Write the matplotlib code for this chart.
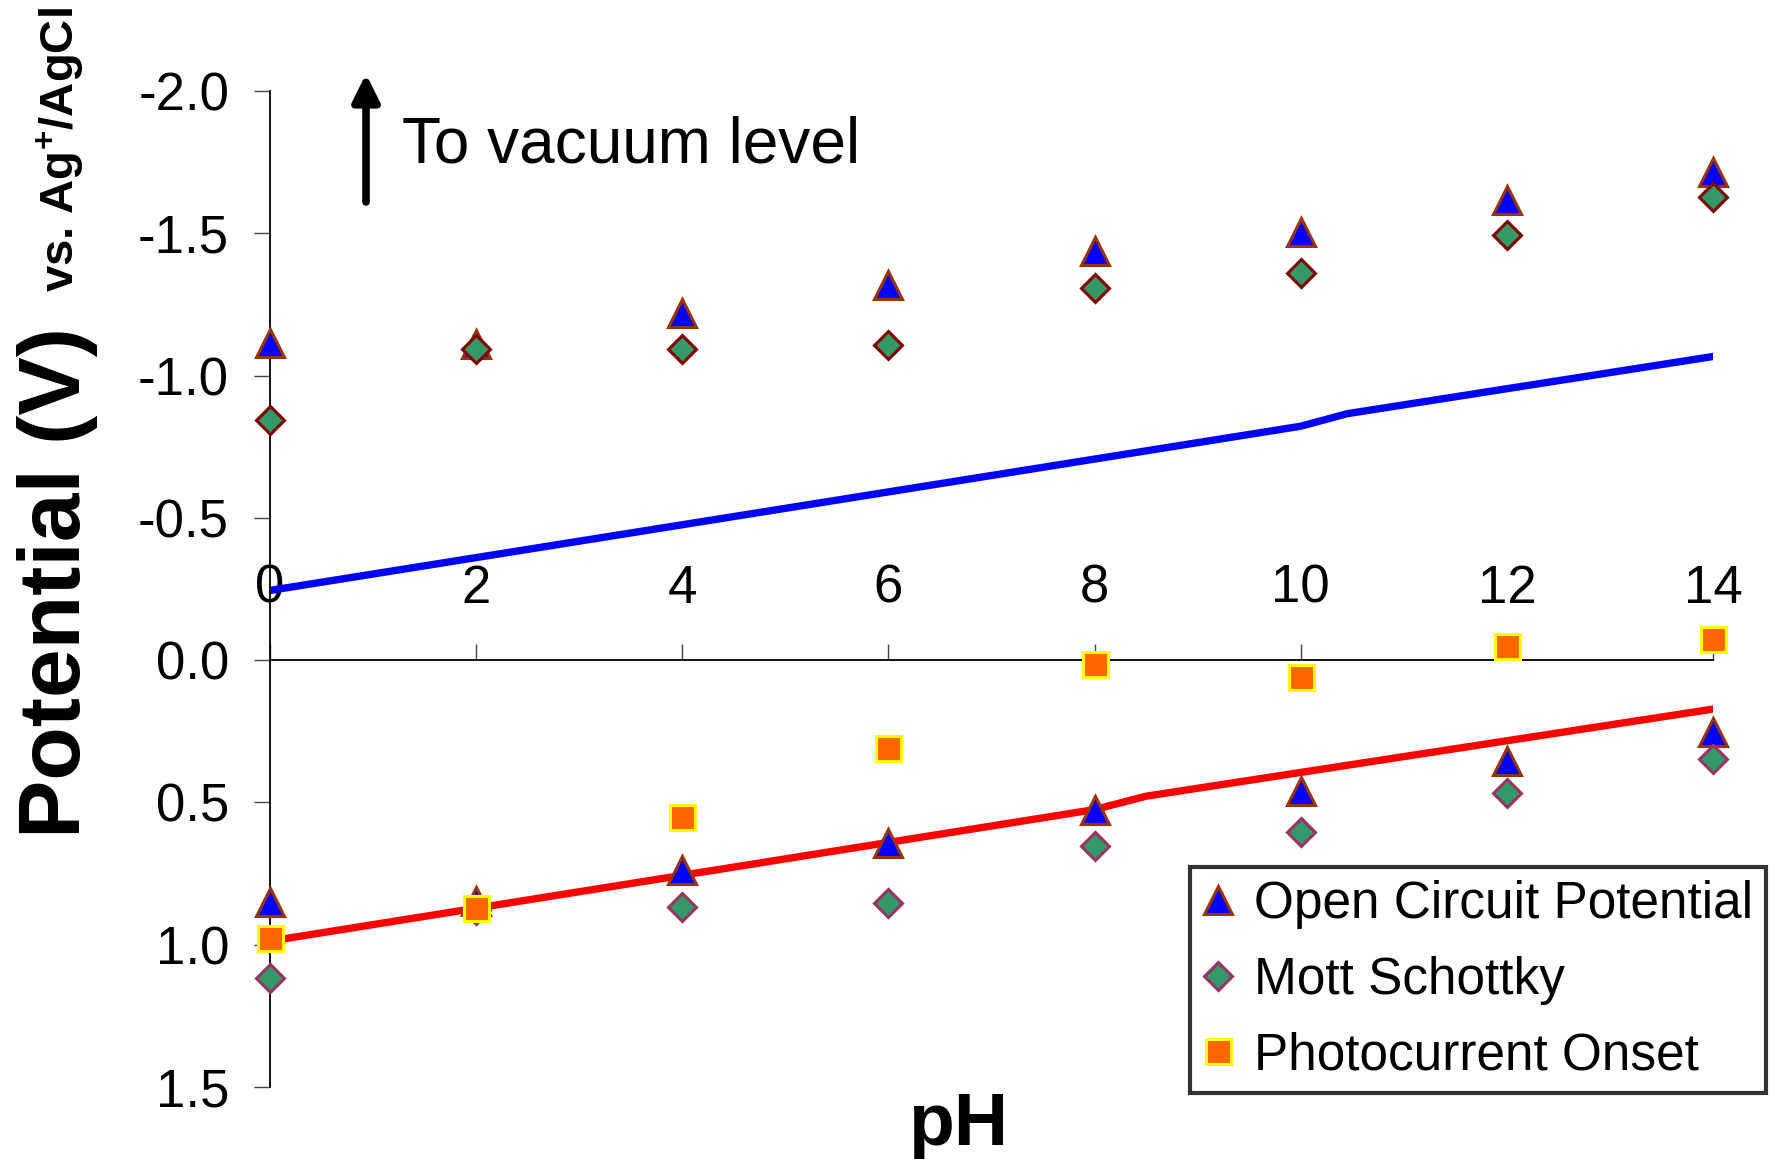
import matplotlib
matplotlib.use('Agg')
import matplotlib.pyplot as plt
from matplotlib.lines import Line2D

plt.rcParams['font.family'] = ['Liberation Sans', 'DejaVu Sans']
plt.rcParams['axes.unicode_minus'] = False
plt.rcParams['mathtext.fontset'] = 'custom'
plt.rcParams['mathtext.rm'] = 'Liberation Sans'
plt.rcParams['mathtext.bf'] = 'Liberation Sans:bold'

# donnees
ph = [0, 2, 4, 6, 8, 10, 12, 14]
ocp_haut = [-1.113, -1.11, -1.221, -1.317, -1.436, -1.504, -1.616, -1.715]
ocp_bas = [0.849, 0.845, 0.738, 0.644, 0.526, 0.459, 0.354, 0.251]
ms_haut = [-0.843, -1.093, -1.093, -1.106, -1.309, -1.36, -1.493, -1.627]
ms_bas = [1.117, 0.878, 0.867, 0.855, 0.652, 0.603, 0.466, 0.346]
onset = [0.977, 0.870, 0.551, 0.308, 0.015, 0.06, -0.048, -0.076]

ph_bleu = [0, 10, 10.45, 14]
ligne_bleu = [-0.245, -0.822, -0.866, -1.067]
ph_rouge = [0, 8, 8.5, 14]
ligne_rouge = [0.987, 0.525, 0.478, 0.172]

yticks = [-2.0, -1.5, -1.0, -0.5, 0.0, 0.5, 1.0, 1.5]
xticks = [0, 2, 4, 6, 8, 10, 12, 14]

fig = plt.figure(figsize=(17.72, 11.59), dpi=100)
ax = fig.add_axes([0.1524, 0.0621, 0.8143, 0.8594])

ax.plot(ph_bleu, ligne_bleu, color='#0000FF', lw=5.3, solid_capstyle='round', zorder=2)
ax.plot(ph_rouge, ligne_rouge, color='#FF0000', lw=5.3, solid_capstyle='round', zorder=2)

ax.plot(ph, ocp_haut, '^', ms=20, mfc='#0000FF', mec='#993300', mew=2.2, ls='none', clip_on=False, zorder=3)
ax.plot(ph, ocp_bas, '^', ms=20, mfc='#0000FF', mec='#993300', mew=2.2, ls='none', clip_on=False, zorder=3)
ax.plot(ph, ms_haut, 'D', ms=14, mfc='#339966', mec='#800000', mew=2.2, ls='none', clip_on=False, zorder=4)
ax.plot(ph, ms_bas, 'D', ms=14, mfc='#339966', mec='#993366', mew=2.2, ls='none', clip_on=False, zorder=4)
ax.plot(ph, onset, 's', ms=18, mfc='#FF6600', mec='#FFFF00', mew=2.2, ls='none', clip_on=False, zorder=5)

ax.set_xlim(0, 14)
ax.set_ylim(1.5, -2.0)
ax.set_yticks(yticks)
ax.set_yticklabels(['%.1f' % v for v in yticks])
ax.set_xticks(xticks)

# axe des x place a y = 0, etiquettes au-dessus
ax.xaxis.tick_top()
ax.spines['top'].set_position(('data', 0))
ax.spines['bottom'].set_visible(False)
ax.spines['right'].set_visible(False)
ax.spines['top'].set_linewidth(1.3)
ax.spines['left'].set_linewidth(1.3)
ax.tick_params(axis='x', direction='out', length=11.5, width=1, color='#444444',
               labelsize=38, pad=22)
ax.tick_params(axis='y', direction='out', length=11.5, width=1, color='#444444',
               labelsize=38, pad=18)

fig.text(0.0327, 0.497, 'Potential (V)', rotation=90, ha='center', va='center',
         fontsize=63, fontweight='bold')
fig.text(0.034, 0.871, r'vs. Ag$^{\mathbf{+}}$/AgCl', rotation=90, ha='center', va='center',
         fontsize=34, fontweight='bold')
fig.text(0.5406, 0.0121, 'pH', ha='center', va='baseline', fontsize=54, fontweight='bold')

ax.annotate('', xy=(366 / 1772, 1 - 74 / 1159), xytext=(366 / 1772, 1 - 202 / 1159),
            xycoords='figure fraction', textcoords='figure fraction',
            arrowprops=dict(arrowstyle='-|>', lw=5.5, color='black', mutation_scale=40,
                            shrinkA=0, shrinkB=0))
fig.text(402 / 1772, 1 - 163 / 1159, 'To vacuum level', ha='left', va='baseline', fontsize=46)

poignees = [
    Line2D([], [], marker='^', ms=20, mfc='#0000FF', mec='#993300', mew=2.2, ls='none'),
    Line2D([], [], marker='D', ms=14, mfc='#339966', mec='#993366', mew=2.2, ls='none'),
    Line2D([], [], marker='s', ms=18, mfc='#FF6600', mec='#FFFF00', mew=2.2, ls='none'),
]
leg = ax.legend(poignees, ['Open Circuit Potential', 'Mott Schottky', 'Photocurrent Onset'],
                loc='upper right', bbox_to_anchor=(1766 / 1772, 1 - 867 / 1159),
                bbox_transform=fig.transFigure, fontsize=37, frameon=True, fancybox=False,
                borderaxespad=0, handlelength=0.6, handletextpad=0.4, labelspacing=0.52,
                borderpad=0.25)
leg.get_frame().set_edgecolor('black')
leg.get_frame().set_linewidth(3)

plt.savefig('out.png', dpi=100)
